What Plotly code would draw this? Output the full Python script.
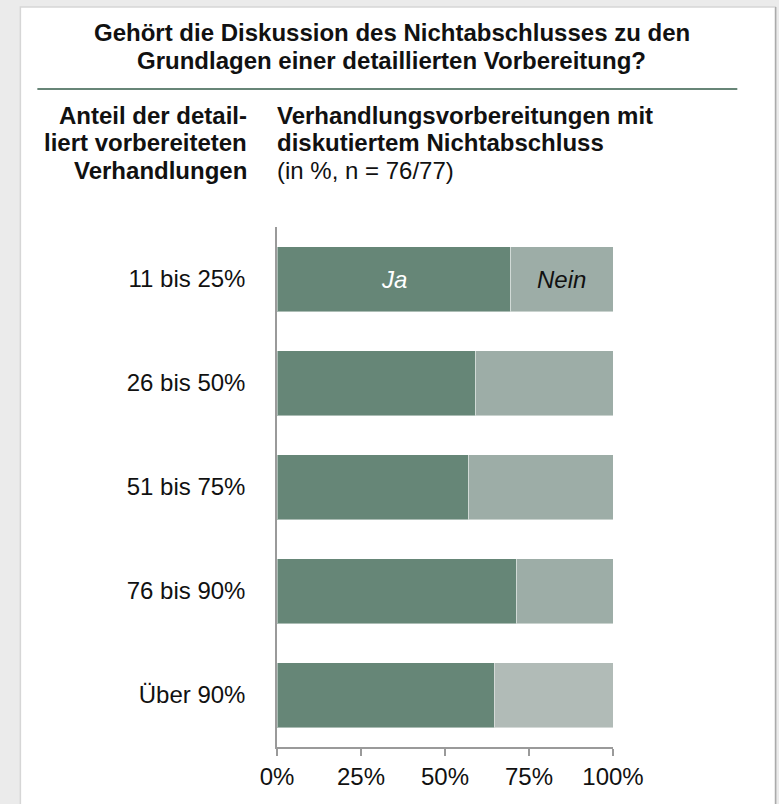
import plotly.graph_objects as go

# ---- data ----
categories = ["11 bis 25%", "26 bis 50%", "51 bis 75%", "76 bis 90%", "Über 90%"]
ja_values = [69.6, 59.1, 57.1, 71.4, 64.7]
nein_values = [round(100 - v, 1) for v in ja_values]
x_ticks = [0, 25, 50, 75, 100]
x_tick_labels = ["0%", "25%", "50%", "75%", "100%"]

title_lines = ["Gehört die Diskussion des Nichtabschlusses zu den",
               "Grundlagen einer detaillierten Vorbereitung?"]
left_header = ["Anteil der detail-", "liert vorbereiteten", "Verhandlungen"]
right_header = ["Verhandlungsvorbereitungen mit", "diskutiertem Nichtabschluss",
                "(in %, n = 76/77)"]

# ---- styling ----
W, H = 779, 804
FONT = "Liberation Sans, Arial, Helvetica, sans-serif"
FS = 24
JA_COLOR = "#668677"
NEIN_COLORS = ["#9dada7", "#9dada7", "#9dada7", "#9dada7", "#b1bbb7"]

PL, PR = 277, 613.5
PT, PB = 227, 747


def px(x):
    return (x - PL) / (PR - PL)


def py(y):
    return (PB - y) / (PB - PT)


fig = go.Figure()
fig.add_trace(go.Bar(
    y=categories, x=ja_values, orientation="h", name="Ja",
    marker=dict(color=JA_COLOR, line=dict(color="rgba(255,255,255,0.45)", width=1)),
    hoverinfo="x+y",
))
fig.add_trace(go.Bar(
    y=categories, x=nein_values, orientation="h", name="Nein",
    marker=dict(color=NEIN_COLORS, line=dict(color="rgba(255,255,255,0.45)", width=1)),
    hoverinfo="x+y",
))

shapes = [
    # card
    dict(type="rect", xref="paper", yref="paper", x0=px(20), x1=px(776), y0=py(812), y1=py(7),
         fillcolor="white", line=dict(color="#d6d6d6", width=1.5), layer="below"),
    dict(type="line", xref="paper", yref="paper", x0=px(776.5), x1=px(776.5), y0=py(812), y1=py(7),
         line=dict(color="#a3a3a3", width=1.2), layer="below"),
    # divider
    dict(type="line", xref="paper", yref="paper", x0=px(37), x1=px(738), y0=py(89), y1=py(89),
         line=dict(color="#678577", width=2)),
]

annotations = []
for i, t in enumerate(title_lines):
    annotations.append(dict(text="<b>%s</b>" % t, xref="paper", yref="paper", x=px(392), y=py(32 + 28 * i),
                            xanchor="center", yanchor="middle", showarrow=False,
                            font=dict(family=FONT, size=FS, color="#111")))
for i, t in enumerate(left_header):
    annotations.append(dict(text="<b>%s</b>" % t, xref="paper", yref="paper", x=px(249), y=py(115 + 28 * i),
                            xanchor="right", yanchor="middle", showarrow=False,
                            font=dict(family=FONT, size=FS, color="#111")))
for i, t in enumerate(right_header):
    txt = "<b>%s</b>" % t if i < 2 else t
    annotations.append(dict(text=txt, xref="paper", yref="paper", x=px(275), y=py(115 + 28 * i),
                            xanchor="left", yanchor="middle", showarrow=False,
                            font=dict(family=FONT, size=FS, color="#111")))
# segment labels on first bar
annotations.append(dict(text="<i>Ja</i>", x=ja_values[0] / 2, y=categories[0], xref="x", yref="y",
                        showarrow=False, font=dict(family=FONT, size=FS, color="white")))
annotations.append(dict(text="<i>Nein</i>", x=ja_values[0] + nein_values[0] / 2, y=categories[0],
                        xref="x", yref="y", showarrow=False,
                        font=dict(family=FONT, size=FS, color="#111")))

fig.update_layout(
    width=W, height=H,
    margin=dict(l=PL, r=W - PR, t=PT, b=H - PB, pad=0),
    barmode="stack", bargap=0.375,
    showlegend=False,
    paper_bgcolor="#ebebeb", plot_bgcolor="rgba(0,0,0,0)",
    font=dict(family=FONT, size=FS, color="#111"),
    shapes=shapes, annotations=annotations,
    xaxis=dict(range=[0, 100], tickvals=x_ticks, ticktext=x_tick_labels,
               showgrid=False, zeroline=False, showline=True, linecolor="#9a9a9a", linewidth=1.5,
               ticks="outside", ticklen=7, tickwidth=1.5, tickcolor="#9a9a9a",
               tickfont=dict(family=FONT, size=FS, color="#111"), fixedrange=True),
    yaxis=dict(categoryorder="array", categoryarray=categories, autorange="reversed",
               showgrid=False, zeroline=False, showline=True, linecolor="#9a9a9a", linewidth=1.5,
               ticks="", ticklabelstandoff=25,
               tickfont=dict(family=FONT, size=FS, color="#111"), fixedrange=True),
)

fig.write_html("out.html", config={"displayModeBar": False})
